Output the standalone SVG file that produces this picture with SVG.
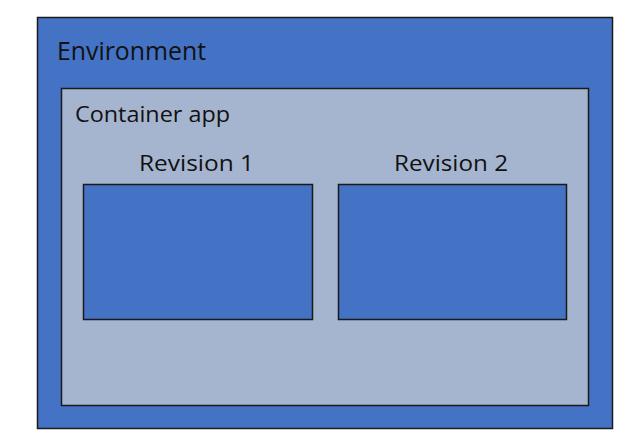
<svg xmlns="http://www.w3.org/2000/svg" width="636" height="448" viewBox="0 0 636 448">
<style>
.t{font-family:"Open Sans","Liberation Sans",sans-serif;fill:#111;}
.blue{fill:#4472C4;stroke:#1a1a1a;stroke-width:1.5;}
.grey{fill:#A6B5CF;stroke:#1a1a1a;stroke-width:1.5;}
</style>
<rect width="636" height="448" fill="#fff"/>
<g id="environment">
<rect class="blue" x="37.5" y="17.5" width="575" height="411"/>
<text class="t" x="57" y="60" font-size="25" textLength="149" lengthAdjust="spacingAndGlyphs">Environment</text>
</g>
<g id="container-app">
<rect class="grey" x="61.5" y="88.5" width="527" height="317"/>
<text class="t" x="75" y="122" font-size="22" textLength="155" lengthAdjust="spacingAndGlyphs">Container app</text>
</g>
<g id="revision-1">
<text class="t" x="139" y="171" font-size="22" textLength="115" lengthAdjust="spacingAndGlyphs">Revision 1</text>
<rect class="blue" x="83.5" y="184.5" width="229" height="135"/>
</g>
<g id="revision-2">
<text class="t" x="394" y="171" font-size="22" textLength="114" lengthAdjust="spacingAndGlyphs">Revision 2</text>
<rect class="blue" x="338.5" y="184.5" width="228" height="135"/>
</g>
<g id="connectors"/>
</svg>
